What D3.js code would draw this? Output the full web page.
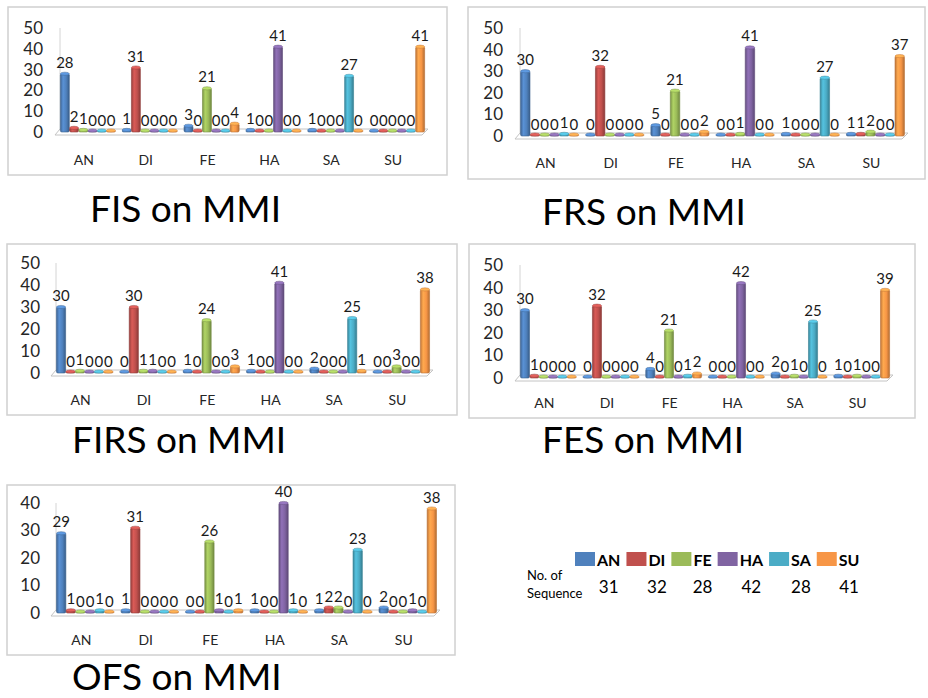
<!DOCTYPE html>
<html>
<head>
<meta charset="utf-8">
<script src="https://cdn.jsdelivr.net/npm/d3@7"></script>
<style>
  body { margin: 0; background: #fff; }
  svg { display: block; }
  text { font-family: Lato, "Open Sans", sans-serif; }
</style>
</head>
<body>
<svg id="chart" width="928" height="698"></svg>
<script>
// Emotion categories on each axis, and the series (recognised emotion) drawn in each group
const categories = ["AN", "DI", "FE", "HA", "SA", "SU"];
const seriesNames = ["AN", "DI", "FE", "HA", "SA", "SU"];
const seriesColors = ["#4F81BD", "#C0504D", "#9BBB59", "#8064A2", "#4BACC6", "#F79646"];

// One row per category group, one column per series
const fisValues = [
  [28, 2, 1, 0, 0, 0],
  [1, 31, 0, 0, 0, 0],
  [3, 0, 21, 0, 0, 4],
  [1, 0, 0, 41, 0, 0],
  [1, 0, 0, 0, 27, 0],
  [0, 0, 0, 0, 0, 41]
];
const frsValues = [
  [30, 0, 0, 0, 1, 0],
  [0, 32, 0, 0, 0, 0],
  [5, 0, 21, 0, 0, 2],
  [0, 0, 1, 41, 0, 0],
  [1, 0, 0, 0, 27, 0],
  [1, 1, 2, 0, 0, 37]
];
const firsValues = [
  [30, 0, 1, 0, 0, 0],
  [0, 30, 1, 1, 0, 0],
  [1, 0, 24, 0, 0, 3],
  [1, 0, 0, 41, 0, 0],
  [2, 0, 0, 0, 25, 1],
  [0, 0, 3, 0, 0, 38]
];
const fesValues = [
  [30, 1, 0, 0, 0, 0],
  [0, 32, 0, 0, 0, 0],
  [4, 0, 21, 0, 1, 2],
  [0, 0, 0, 42, 0, 0],
  [2, 0, 1, 0, 25, 0],
  [1, 0, 1, 0, 0, 39]
];
const ofsValues = [
  [29, 1, 0, 0, 1, 0],
  [1, 31, 0, 0, 0, 0],
  [0, 0, 26, 1, 0, 1],
  [1, 0, 0, 40, 1, 0],
  [1, 2, 2, 0, 23, 0],
  [2, 0, 0, 1, 0, 38]
];

const panelTitles = ["FIS on MMI", "FRS on MMI", "FIRS on MMI", "FES on MMI", "OFS on MMI"];
const ticks50 = [0, 10, 20, 30, 40, 50];
const ticks40 = [0, 10, 20, 30, 40];
const sequenceCounts = [31, 32, 28, 42, 28, 41];
const sequenceCaption = ["No. of", "Sequence"];

// Panel geometry
const panels = [
  { values: fisValues,  title: panelTitles[0], ticks: ticks50, yMax: 50,
    frame: [8, 7, 439, 168],   x0: 57,  x1: 428, yTop: 28,  yBase: 132, tickX: 43,  catY: 165, titlePos: [90, 222] },
  { values: frsValues,  title: panelTitles[1], ticks: ticks50, yMax: 50,
    frame: [468, 7, 457, 172], x0: 517, x1: 908, yTop: 28,  yBase: 136, tickX: 503, catY: 168, titlePos: [542, 225] },
  { values: firsValues, title: panelTitles[2], ticks: ticks50, yMax: 50,
    frame: [7, 244, 450, 171], x0: 53,  x1: 433, yTop: 263, yBase: 373, tickX: 40,  catY: 405, titlePos: [72, 453] },
  { values: fesValues,  title: panelTitles[3], ticks: ticks50, yMax: 50,
    frame: [469, 244, 446, 174], x0: 517, x1: 893, yTop: 265, yBase: 378, tickX: 503, catY: 408, titlePos: [542, 453] },
  { values: ofsValues,  title: panelTitles[4], ticks: ticks40, yMax: 40,
    frame: [7, 485, 448, 170], x0: 53,  x1: 440, yTop: 503, yBase: 613, tickX: 40,  catY: 645, titlePos: [72, 690] }
];

const svg = d3.select("#chart");
const defs = svg.append("defs");

// Shaded column fills, one per series colour
seriesColors.forEach((c, i) => {
  const base = d3.color(c);
  const grad = defs.append("linearGradient")
    .attr("id", "col" + i).attr("x1", 0).attr("x2", 1).attr("y1", 0).attr("y2", 0);
  grad.append("stop").attr("offset", "0%").attr("stop-color", base.darker(0.7));
  grad.append("stop").attr("offset", "30%").attr("stop-color", base.brighter(0.35));
  grad.append("stop").attr("offset", "65%").attr("stop-color", base);
  grad.append("stop").attr("offset", "100%").attr("stop-color", base.darker(0.9));
});

panels.forEach(p => {
  const g = svg.append("g");
  const [fx, fy, fw, fh] = p.frame;

  g.append("rect")
    .attr("x", fx).attr("y", fy).attr("width", fw).attr("height", fh)
    .attr("fill", "#fff").attr("stroke", "#d0d0d0").attr("stroke-width", 1.5);

  const y = d3.scaleLinear().domain([0, p.yMax]).range([p.yBase, p.yTop]);
  const x = d3.scaleBand().domain(categories).range([p.x0, p.x1])
    .paddingInner(0.1).paddingOuter(0.05);
  const xs = d3.scaleBand().domain(seriesNames).range([0, x.bandwidth()]).padding(0.03);

  // back wall edge and floor
  g.append("line")
    .attr("x1", p.x0 + 3).attr("x2", p.x0 + 3)
    .attr("y1", y(p.yMax)).attr("y2", y(0) - 3)
    .attr("stroke", "#d4d4d4").attr("stroke-width", 1);
  g.append("polygon")
    .attr("points", [
      [p.x0 + 3, y(0) - 3], [p.x1, y(0) - 3],
      [p.x1 - 6, y(0) + 3], [p.x0 - 2, y(0) + 3]
    ].map(d => d.join(",")).join(" "))
    .attr("fill", "#fff").attr("stroke", "#c4c4c4").attr("stroke-width", 1);

  // y tick labels
  g.selectAll("text.tick").data(p.ticks).join("text")
    .attr("class", "tick")
    .attr("x", p.tickX).attr("y", d => y(d))
    .attr("dy", "0.35em")
    .attr("text-anchor", "end")
    .attr("font-size", 17)
    .attr("fill", "#262626")
    .text(d => d);

  // category labels
  g.selectAll("text.cat").data(categories).join("text")
    .attr("class", "cat")
    .attr("x", d => x(d) + x.bandwidth() / 2 - 4)
    .attr("y", p.catY)
    .attr("text-anchor", "middle")
    .attr("font-size", 14)
    .attr("fill", "#262626")
    .text(d => d);

  // columns
  const cells = [];
  categories.forEach((cat, i) => {
    seriesNames.forEach((s, j) => {
      cells.push({ cat, s, j, v: p.values[i][j] });
    });
  });

  const bars = g.selectAll("g.bar").data(cells).join("g").attr("class", "bar");
  bars.each(function (d) {
    const b = d3.select(this);
    const bx = x(d.cat) + xs(d.s);
    const bw = xs.bandwidth();
    const top = y(d.v);
    const bottom = y(0);
    const c = d3.color(seriesColors[d.j]);
    const h = Math.max(bottom - top, 1.5);
    b.append("rect")
      .attr("x", bx).attr("y", bottom - h)
      .attr("width", bw).attr("height", h)
      .attr("rx", 1.5)
      .attr("fill", `url(#col${d.j})`)
      .attr("stroke", c.darker(0.8)).attr("stroke-width", 0.6);
    b.append("ellipse")
      .attr("cx", bx + bw / 2).attr("cy", bottom - h)
      .attr("rx", bw / 2).attr("ry", 1.6)
      .attr("fill", c.brighter(0.5))
      .attr("stroke", c.darker(0.6)).attr("stroke-width", 0.5);
  });

  // value labels
  g.selectAll("text.val").data(cells).join("text")
    .attr("class", "val")
    .attr("x", d => x(d.cat) + xs(d.s) + xs.bandwidth() / 2)
    .attr("y", d => y(d.v) - 6)
    .attr("text-anchor", "middle")
    .attr("font-size", 15)
    .attr("fill", "#1a1a1a")
    .text(d => d.v);

  // panel title
  svg.append("text")
    .attr("x", p.titlePos[0]).attr("y", p.titlePos[1])
    .attr("font-size", 37)
    .attr("fill", "#000")
    .text(p.title);
});

// Legend with sequence counts
const legend = svg.append("g");
let cursor = 575;
seriesNames.forEach((s, i) => {
  legend.append("rect")
    .attr("x", cursor).attr("y", 552).attr("width", 20).attr("height", 14)
    .attr("fill", seriesColors[i]);
  const t = legend.append("text")
    .attr("x", cursor + 22).attr("y", 566)
    .attr("font-size", 16).attr("font-weight", "bold")
    .attr("fill", "#000")
    .text(s);
  const w = t.node().getComputedTextLength();
  legend.append("text")
    .attr("x", cursor + 22 + w / 2).attr("y", 593)
    .attr("text-anchor", "middle")
    .attr("font-size", 17)
    .attr("fill", "#000")
    .text(sequenceCounts[i]);
  cursor += 22 + w + 6;
});
sequenceCaption.forEach((line, i) => {
  legend.append("text")
    .attr("x", 527).attr("y", 580 + i * 18)
    .attr("font-size", 13)
    .attr("fill", "#000")
    .text(line);
});
</script>
</body>
</html>
